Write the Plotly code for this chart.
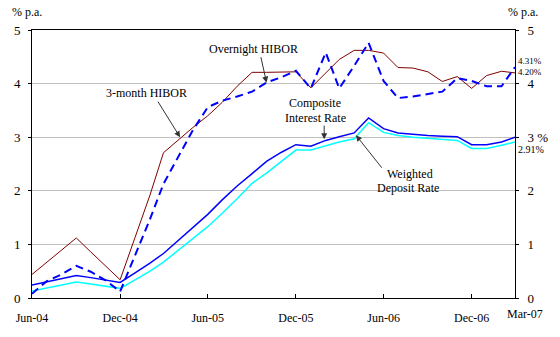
import pandas as pd
import plotly.graph_objects as go

months = pd.date_range("2004-06-01", periods=34, freq="MS")

hibor_3m = [0.44, 0.66, 0.89, 1.12, 0.86, 0.60, 0.34, 1.13, 1.92, 2.71, 2.95, 3.18,
            3.40, 3.65, 3.95, 4.21, 4.21, 4.22, 4.22, 3.92, 4.20, 4.45, 4.62, 4.62,
            4.57, 4.30, 4.29, 4.22, 4.04, 4.13, 3.91, 4.15, 4.23, 4.20]
hibor_on = [0.08, 0.31, 0.44, 0.60, 0.49, 0.33, 0.12, 0.80, 1.47, 2.13, 2.64, 3.13,
            3.56, 3.68, 3.76, 3.85, 4.02, 4.12, 4.24, 3.91, 4.58, 3.91, 4.33, 4.76,
            4.05, 3.73, 3.76, 3.80, 3.85, 4.10, 4.05, 3.95, 3.95, 4.31]
composite = [0.24, 0.30, 0.36, 0.42, 0.38, 0.33, 0.29, 0.47, 0.65, 0.83, 1.07, 1.31,
             1.56, 1.83, 2.09, 2.32, 2.55, 2.72, 2.86, 2.83, 2.94, 3.01, 3.08, 3.36,
             3.16, 3.08, 3.05, 3.03, 3.02, 3.01, 2.86, 2.86, 2.91, 3.00]
deposit = [0.13, 0.19, 0.25, 0.30, 0.26, 0.22, 0.18, 0.34, 0.50, 0.67, 0.89, 1.11,
           1.33, 1.58, 1.85, 2.14, 2.33, 2.55, 2.76, 2.76, 2.84, 2.91, 2.97, 3.27,
           3.09, 3.03, 3.00, 2.98, 2.96, 2.94, 2.79, 2.79, 2.85, 2.91]

xtick_vals = ["2004-06-01", "2004-12-01", "2005-06-01", "2005-12-01", "2006-06-01", "2006-12-01"]
xtick_text = ["Jun-04", "Dec-04", "Jun-05", "Dec-05", "Jun-06", "Dec-06"]
ytick_vals = [0, 1, 2, 3, 4, 5]
ytick_right = ["0", "1", "2", "3 %", "4", "5"]

FONT = "Liberation Serif"
L, R, T, B = 32, 518, 30, 305
W, H = 560, 337


def px(xp):
    return (xp - L) / (R - L)


def py(yp):
    return (B - yp) / (B - T)


fig = go.Figure()
fig.add_trace(go.Scatter(x=months, y=deposit, mode="lines", line=dict(color="#00FFFF", width=1.5)))
fig.add_trace(go.Scatter(x=months, y=composite, mode="lines", line=dict(color="#0000FF", width=1.5)))
fig.add_trace(go.Scatter(x=months, y=hibor_3m, mode="lines", line=dict(color="#800000", width=1)))
fig.add_trace(go.Scatter(x=months, y=hibor_on, mode="lines",
                         line=dict(color="#0000FF", width=2, dash="8px,5px")))
fig.add_trace(go.Scatter(x=months, y=composite, mode="lines", yaxis="y2",
                         line=dict(color="rgba(0,0,0,0)", width=0), hoverinfo="skip"))

annotations = []


def text_ann(t, xp, yp, size=12, xanchor="center"):
    annotations.append(dict(text=t, x=px(xp), y=py(yp), xref="paper", yref="paper",
                            showarrow=False, xanchor=xanchor, yanchor="middle", borderpad=0,
                            font=dict(family=FONT, size=size, color="black")))


def arrow(tail, tip):
    annotations.append(dict(text="", x=px(tip[0]), y=py(tip[1]), xref="paper", yref="paper",
                            showarrow=True, ax=tail[0] - tip[0], ay=tail[1] - tip[1],
                            arrowhead=2, arrowsize=1.2, arrowwidth=1, arrowcolor="#333333",
                            standoff=0, startstandoff=0))


text_ann("Overnight HIBOR", 255, 50)
arrow((262, 57), (268, 84))
text_ann("3-month HIBOR", 147, 95)
arrow((158, 103), (181, 140))
text_ann("Composite", 317, 105)
text_ann("Interest Rate", 317, 120)
arrow((326, 127), (326, 142))
text_ann("Weighted", 412, 178)
text_ann("Deposit Rate", 410, 192)
arrow((385, 172), (358, 138))
text_ann("% p.a.", 11, 12, size=12, xanchor="left")
text_ann("% p.a.", 510, 12, size=12, xanchor="left")
text_ann("4.31%", 520, 62, size=9, xanchor="left")
text_ann("4.20%", 520, 73, size=9, xanchor="left")
text_ann("2.91%", 520, 153, size=10, xanchor="left")
text_ann("Mar-07", 528, 321)

fig.update_layout(
    width=W, height=H,
    margin=dict(l=L, r=W - R, t=T, b=H - B),
    paper_bgcolor="white", plot_bgcolor="white",
    showlegend=False,
    font=dict(family=FONT, size=12, color="black"),
    annotations=annotations,
    xaxis=dict(range=["2004-06-01", "2007-03-01"], tickvals=xtick_vals, ticktext=xtick_text,
               ticks="inside", ticklen=4, tickcolor="black", showgrid=False,
               showline=True, linecolor="black", linewidth=1, mirror=True,
               ticklabelstandoff=9, tickfont=dict(family=FONT, size=12)),
    yaxis=dict(range=[0, 5], tickvals=ytick_vals, ticks="outside", ticklen=3, tickcolor="black",
               showgrid=True, gridcolor="#C0C0C0", gridwidth=1, zeroline=False,
               showline=True, linecolor="black", linewidth=1, mirror=True,
               tickfont=dict(family=FONT, size=13), ticklabelstandoff=5),
    yaxis2=dict(range=[0, 5], tickvals=ytick_vals, ticktext=ytick_right, overlaying="y",
                side="right", ticks="outside", ticklen=3, tickcolor="black",
                showgrid=False, zeroline=False, showline=True, linecolor="black", linewidth=1,
                tickfont=dict(family=FONT, size=13), ticklabelstandoff=6),
)

fig.write_html("out.html")
